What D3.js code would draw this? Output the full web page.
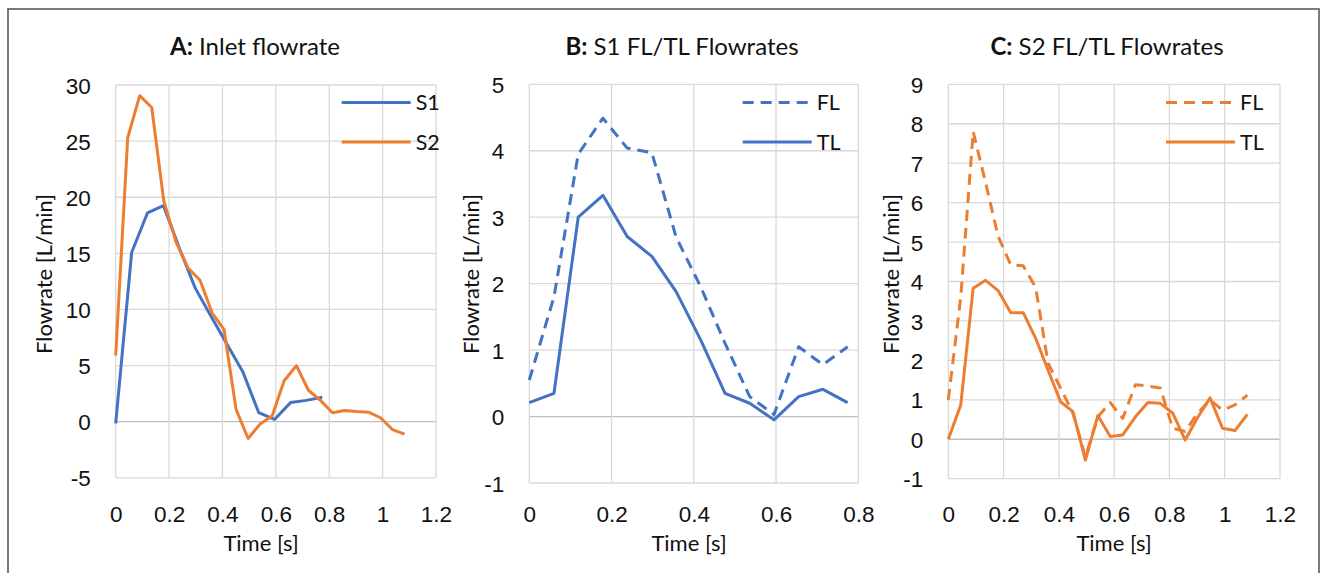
<!DOCTYPE html>
<html>
<head>
<meta charset="utf-8">
<style>
    body { margin: 0; background: #fff; }
    svg { font-family: Lato, 'Open Sans', sans-serif; }
    .tick text { font-size: 22.5px; fill: #111; }
    .domain { display: none; }
    .grid line { stroke: #d9d9d9; stroke-width: 1.3; }
    .grid line.zero { stroke: #c0c0c0; }
    .title { font-size: 24px; fill: #111; }
    .axis-title { font-size: 22px; fill: #111; }
    .legend text { font-size: 21.5px; fill: #111; }
</style>
</head>
<body>
<svg width="1321" height="573"></svg>
<script src="https://d3js.org/d3.v7.min.js"></script>
<script>
// time steps (s)
let timeS1 = [0, 0.060, 0.119, 0.179, 0.238, 0.298, 0.357, 0.417, 0.476, 0.536, 0.595, 0.655, 0.714, 0.774]
let timeS2 = [0, 0.045, 0.090, 0.135, 0.180, 0.226, 0.271, 0.316, 0.361, 0.406, 0.451, 0.496, 0.541,
    0.586, 0.631, 0.677, 0.722, 0.767, 0.812, 0.857, 0.902, 0.947, 0.992, 1.037, 1.082]

// A: inlet flowrate [L/min]
let inletS1 = [-0.15, 15.1, 18.6, 19.25, 15.5, 11.9, 9.4, 6.9, 4.46, 0.8, 0.2, 1.7, 1.9, 2.17]
let inletS2 = [5.9, 25.3, 29.05, 28.0, 19.7, 16.0, 13.7, 12.6, 9.7, 8.2, 1.1, -1.5, -0.2,
    0.5, 3.65, 5.0, 2.8, 1.9, 0.8, 1.0, 0.9, 0.85, 0.35, -0.7, -1.1]

// B: S1 false lumen / true lumen
let s1FL = [0.55, 1.8, 3.95, 4.49, 4.04, 3.97, 2.7, 1.95, 1.1, 0.3, 0.03, 1.05, 0.78, 1.05]
let s1TL = [0.21, 0.35, 3.0, 3.33, 2.71, 2.41, 1.88, 1.15, 0.35, 0.2, -0.05, 0.3, 0.41, 0.21]

// C: S2 false lumen / true lumen
let s2FL = [1.0, 3.6, 7.8, 6.5, 5.15, 4.42, 4.4, 3.85, 1.93, 1.3, 0.66, -0.45, 0.57,
    0.93, 0.53, 1.38, 1.35, 1.3, 0.28, 0.2, 0.66, 1.0, 0.74, 0.87, 1.12]
let s2TL = [0, 0.87, 3.83, 4.03, 3.77, 3.21, 3.21, 2.56, 1.75, 0.95, 0.7, -0.53, 0.6,
    0.07, 0.11, 0.57, 0.93, 0.91, 0.66, -0.02, 0.55, 1.05, 0.28, 0.22, 0.63]

// ticks
let xTicksLong = [0, 0.2, 0.4, 0.6, 0.8, 1, 1.2]
let xTicksShort = [0, 0.2, 0.4, 0.6, 0.8]
let yTicksA = [-5, 0, 5, 10, 15, 20, 25, 30]
let yTicksB = [-1, 0, 1, 2, 3, 4, 5]
let yTicksC = [-1, 0, 1, 2, 3, 4, 5, 6, 7, 8, 9]

let blue = "#4472c4"
let orange = "#ed7d31"

let svg = d3.select("svg")

// outer frame
svg.append("rect")
    .attr("x", 8).attr("y", 9)
    .attr("width", 1311).attr("height", 600)
    .attr("fill", "none")
    .attr("stroke", "#595959")
    .attr("stroke-width", 1.6)

let panels = [
    {
        bold: "A:", title: " Inlet flowrate", titleX: 255,
        xr: [115.7, 436], yr: [477.8, 85], xd: [0, 1.2], yd: [-5, 30],
        xt: xTicksLong, yt: yTicksA, yTitleX: 45, xTitleX: 261,
        series: [
            { name: "S1", t: timeS1, v: inletS1, color: blue, dash: null },
            { name: "S2", t: timeS2, v: inletS2, color: orange, dash: null }
        ],
        legX: 341.7
    },
    {
        bold: "B:", title: " S1 FL/TL Flowrates", titleX: 682,
        xr: [529.3, 858.3], yr: [483, 84.3], xd: [0, 0.8], yd: [-1, 5],
        xt: xTicksShort, yt: yTicksB, yTitleX: 472, xTitleX: 689,
        series: [
            { name: "FL", t: timeS1, v: s1FL, color: blue, dash: "11,7" },
            { name: "TL", t: timeS1, v: s1TL, color: blue, dash: null }
        ],
        legX: 742.7
    },
    {
        bold: "C:", title: " S2 FL/TL Flowrates", titleX: 1107,
        xr: [948.3, 1280], yr: [478.7, 84.3], xd: [0, 1.2], yd: [-1, 9],
        xt: xTicksLong, yt: yTicksC, yTitleX: 892, xTitleX: 1114,
        series: [
            { name: "FL", t: timeS2, v: s2FL, color: orange, dash: "11,7" },
            { name: "TL", t: timeS2, v: s2TL, color: orange, dash: null }
        ],
        legX: 1166
    }
]

panels.forEach(p => {
    let x = d3.scaleLinear().domain(p.xd).range(p.xr)
    let y = d3.scaleLinear().domain(p.yd).range(p.yr)
    let g = svg.append("g")

    // gridlines
    let grid = g.append("g").attr("class", "grid")
    grid.selectAll("line.h")
        .data(p.yt)
        .join("line")
        .attr("class", d => d == 0 ? "h zero" : "h")
        .attr("x1", p.xr[0]).attr("x2", p.xr[1])
        .attr("y1", d => y(d)).attr("y2", d => y(d))
    grid.selectAll("line.v")
        .data(p.xt)
        .join("line")
        .attr("class", "v")
        .attr("y1", p.yr[0]).attr("y2", p.yr[1])
        .attr("x1", d => x(d)).attr("x2", d => x(d))

    // axes (labels only)
    g.append("g")
        .attr("transform", `translate(0,514)`)
        .call(d3.axisBottom(x).tickValues(p.xt).tickSize(0).tickPadding(0).tickFormat(d => String(d)))
        .selectAll(".tick text").attr("dy", "0.36em")
    g.append("g")
        .attr("transform", `translate(${p.xr[0] - 25},0)`)
        .call(d3.axisLeft(y).tickValues(p.yt).tickSize(0).tickPadding(0).tickFormat(d => String(d)))
        .selectAll(".tick text").attr("dy", "0.36em")

    // lines
    let line = d3.line()
        .x(d => x(d[0]))
        .y(d => y(d[1]))
    p.series.forEach(s => {
        g.append("path")
            .datum(d3.zip(s.t, s.v))
            .attr("fill", "none")
            .attr("stroke", s.color)
            .attr("stroke-width", 3)
            .attr("stroke-linejoin", "round")
            .attr("stroke-dasharray", s.dash)
            .attr("d", line)
    })

    // titles
    let t = svg.append("text")
        .attr("class", "title")
        .attr("x", p.titleX)
        .attr("y", 55)
        .attr("text-anchor", "middle")
    t.append("tspan").attr("font-weight", "bold").text(p.bold)
    t.append("tspan").text(p.title)

    svg.append("text")
        .attr("class", "axis-title")
        .attr("x", p.xTitleX)
        .attr("y", 551)
        .attr("text-anchor", "middle")
        .text("Time [s]")

    svg.append("text")
        .attr("class", "axis-title")
        .attr("transform", `translate(${p.yTitleX + 7},274) rotate(-90)`)
        .attr("text-anchor", "middle")
        .text("Flowrate [L/min]")

    // legend
    let leg = svg.append("g").attr("class", "legend")
    p.series.forEach((s, i) => {
        let ly = 102.5 + i * 39.5
        leg.append("line")
            .attr("x1", p.legX).attr("x2", p.legX + 69)
            .attr("y1", ly).attr("y2", ly)
            .attr("stroke", s.color)
            .attr("stroke-width", 3)
            .attr("stroke-dasharray", s.dash)
        leg.append("text")
            .attr("x", p.legX + 74)
            .attr("y", ly)
            .attr("dy", "0.36em")
            .text(s.name)
    })
})
</script>
</body>
</html>
